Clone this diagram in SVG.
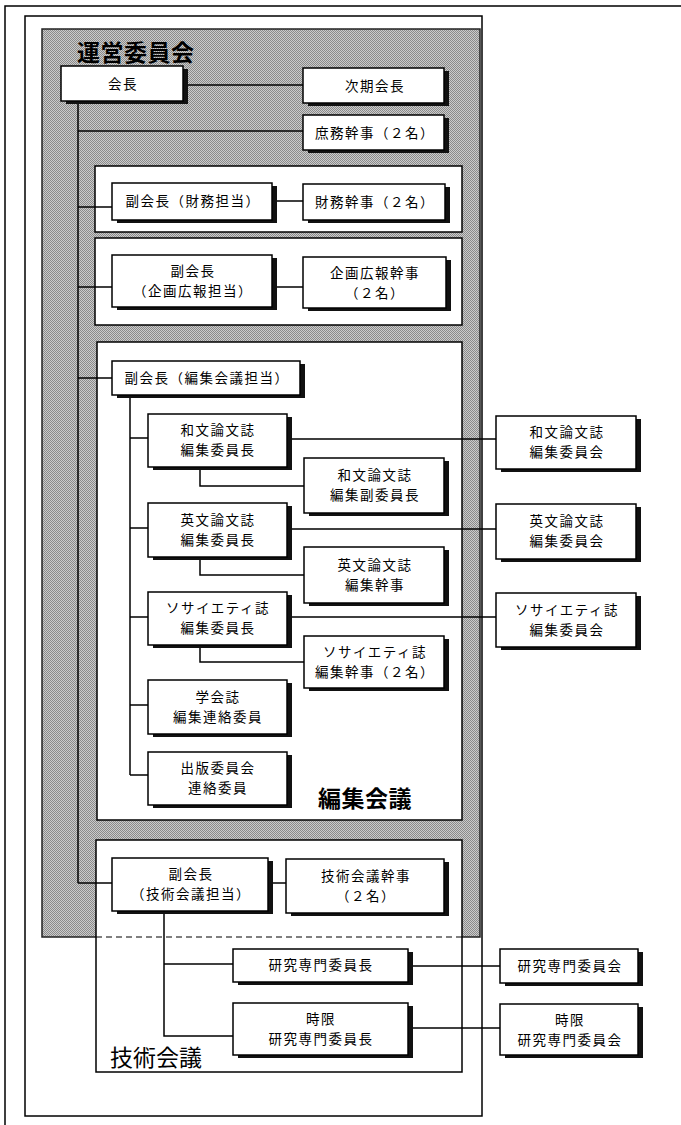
<svg xmlns="http://www.w3.org/2000/svg" width="681" height="1125" viewBox="0 0 681 1125">
<style>
.box{fill:#fff;stroke:#000;stroke-width:1.5}
.sh{fill:#111}
.grp{fill:#fff;stroke:#000;stroke-width:1.5}
.ln{fill:none;stroke:#000;stroke-width:1.5}
text{font-family:"Noto Sans CJK JP","Noto Sans CJK SC",sans-serif;fill:#000}
.t{font-size:13.5px;text-anchor:middle;letter-spacing:1.5px}
.title{font-size:23px;font-weight:bold;letter-spacing:0.5px}
</style>
<defs>
<pattern id="stip" width="2" height="2" patternUnits="userSpaceOnUse">
<rect width="2" height="2" fill="#cbcbcb"/>
<rect x="0" y="0" width="1" height="1" fill="#8a8a8a"/>
<rect x="1" y="1" width="1" height="1" fill="#8a8a8a"/>
</pattern>
</defs>
<rect width="681" height="1125" fill="#fff"/>
<g id="frame">
<path class="ln" d="M5,1125 V6 H681"/>
<rect x="25" y="16" width="457" height="1100" fill="none" stroke="#000" stroke-width="1.5"/>
</g>
<g id="unei">
<rect x="42" y="29" width="438" height="908" fill="url(#stip)" stroke="#222" stroke-width="1.5"/>
<text class="title" x="77" y="61">運営委員会</text>
</g>
<g id="g-zaimu"><rect class="grp" x="95" y="166" width="367" height="66"/></g>
<g id="g-kikaku"><rect class="grp" x="95" y="238" width="367" height="87"/></g>
<g id="g-henshu"><rect class="grp" x="97" y="342" width="365" height="478"/>
<text class="title" x="318" y="807">編集会議</text></g>
<g id="g-gijutsu"><rect class="grp" x="96" y="840" width="366" height="232"/>
<line x1="96" y1="937" x2="462" y2="937" stroke="#000" stroke-width="1.2" stroke-dasharray="6,4"/>
<text x="110" y="1066" style="font-size:23px">技術会議</text></g>
<g id="connectors">
<path class="ln" d="M78,101 V883"/>
<path class="ln" d="M183,85 H303"/>
<path class="ln" d="M78,131 H303"/>
<path class="ln" d="M78,207 H112"/>
<path class="ln" d="M272,201 H303"/>
<path class="ln" d="M78,287 H112"/>
<path class="ln" d="M272,287 H303"/>
<path class="ln" d="M78,378 H112"/>
<path class="ln" d="M130,395 V775"/>
<path class="ln" d="M130,438 H148 M130,528 H148 M130,617 H148 M130,705 H148 M130,775 H148"/>
<path class="ln" d="M287,439 H496 M287,529 H496 M287,617 H496"/>
<path class="ln" d="M200,467 V486 H304"/>
<path class="ln" d="M200,557 V575 H304"/>
<path class="ln" d="M200,645 V662 H304"/>
<path class="ln" d="M78,883 H112"/>
<path class="ln" d="M268,883 H286"/>
<path class="ln" d="M164,911 V1036 H233"/>
<path class="ln" d="M164,964 H233"/>
<path class="ln" d="M408,966 H500"/>
<path class="ln" d="M408,1028 H500"/>
</g>
<g id="n-kaicho"><rect class="sh" x="66" y="69" width="122" height="35"/><rect class="box" x="61" y="66" width="122" height="35"/><text class="t" x="123" y="89">会長</text></g>
<g id="n-jiki"><rect class="sh" x="308" y="71" width="141" height="35"/><rect class="box" x="303" y="68" width="141" height="35"/><text class="t" x="375" y="91">次期会長</text></g>
<g id="n-shomu"><rect class="sh" x="308" y="118" width="141" height="35"/><rect class="box" x="303" y="115" width="141" height="35"/><text class="t" x="375" y="138">庶務幹事（２名）</text></g>
<g id="n-fuku-zaimu"><rect class="sh" x="117" y="186" width="160" height="37"/><rect class="box" x="112" y="183" width="160" height="37"/><text class="t" x="193" y="206">副会長（財務担当）</text></g>
<g id="n-zaimu"><rect class="sh" x="308" y="187" width="142" height="36"/><rect class="box" x="303" y="184" width="142" height="36"/><text class="t" x="375" y="207">財務幹事（２名）</text></g>
<g id="n-fuku-kikaku"><rect class="sh" x="117" y="258" width="160" height="52"/><rect class="box" x="112" y="255" width="160" height="52"/><text class="t" x="193" y="276">副会長</text><text class="t" x="193" y="296">（企画広報担当）</text></g>
<g id="n-kikaku"><rect class="sh" x="308" y="260" width="143" height="51"/><rect class="box" x="303" y="257" width="143" height="51"/><text class="t" x="375" y="278">企画広報幹事</text><text class="t" x="375" y="298">（２名）</text></g>
<g id="n-fuku-henshu"><rect class="sh" x="117" y="364" width="188" height="34"/><rect class="box" x="112" y="361" width="188" height="34"/><text class="t" x="207" y="383">副会長（編集会議担当）</text></g>
<g id="n-wabun-cho"><rect class="sh" x="153" y="417" width="139" height="53"/><rect class="box" x="148" y="414" width="139" height="53"/><text class="t" x="218" y="435">和文論文誌</text><text class="t" x="218" y="455">編集委員長</text></g>
<g id="n-wabun-fuku"><rect class="sh" x="309" y="461" width="140" height="55"/><rect class="box" x="304" y="458" width="140" height="55"/><text class="t" x="375" y="480">和文論文誌</text><text class="t" x="375" y="500">編集副委員長</text></g>
<g id="n-eibun-cho"><rect class="sh" x="153" y="506" width="139" height="54"/><rect class="box" x="148" y="503" width="139" height="54"/><text class="t" x="218" y="525">英文論文誌</text><text class="t" x="218" y="545">編集委員長</text></g>
<g id="n-eibun-kanji"><rect class="sh" x="309" y="550" width="140" height="56"/><rect class="box" x="304" y="547" width="140" height="56"/><text class="t" x="375" y="570">英文論文誌</text><text class="t" x="375" y="590">編集幹事</text></g>
<g id="n-soc-cho"><rect class="sh" x="153" y="595" width="139" height="53"/><rect class="box" x="148" y="592" width="139" height="53"/><text class="t" x="218" y="613">ソサイエティ誌</text><text class="t" x="218" y="633">編集委員長</text></g>
<g id="n-soc-kanji"><rect class="sh" x="309" y="639" width="140" height="52"/><rect class="box" x="304" y="636" width="140" height="52"/><text class="t" x="375" y="657">ソサイエティ誌</text><text class="t" x="375" y="677">編集幹事（２名）</text></g>
<g id="n-gakkai"><rect class="sh" x="153" y="683" width="139" height="54"/><rect class="box" x="148" y="680" width="139" height="54"/><text class="t" x="218" y="702">学会誌</text><text class="t" x="218" y="722">編集連絡委員</text></g>
<g id="n-shuppan"><rect class="sh" x="153" y="755" width="139" height="53"/><rect class="box" x="148" y="752" width="139" height="53"/><text class="t" x="218" y="773">出版委員会</text><text class="t" x="218" y="793">連絡委員</text></g>
<g id="n-wabun-iin"><rect class="sh" x="501" y="419" width="140" height="53"/><rect class="box" x="496" y="416" width="140" height="53"/><text class="t" x="567" y="437">和文論文誌</text><text class="t" x="567" y="457">編集委員会</text></g>
<g id="n-eibun-iin"><rect class="sh" x="501" y="507" width="140" height="55"/><rect class="box" x="496" y="504" width="140" height="55"/><text class="t" x="567" y="526">英文論文誌</text><text class="t" x="567" y="546">編集委員会</text></g>
<g id="n-soc-iin"><rect class="sh" x="501" y="596" width="140" height="54"/><rect class="box" x="496" y="593" width="140" height="54"/><text class="t" x="567" y="615">ソサイエティ誌</text><text class="t" x="567" y="635">編集委員会</text></g>
<g id="n-fuku-gijutsu"><rect class="sh" x="117" y="861" width="156" height="53"/><rect class="box" x="112" y="858" width="156" height="53"/><text class="t" x="191" y="879">副会長</text><text class="t" x="191" y="899">（技術会議担当）</text></g>
<g id="n-gijutsu-kanji"><rect class="sh" x="291" y="862" width="158" height="54"/><rect class="box" x="286" y="859" width="158" height="54"/><text class="t" x="366" y="881">技術会議幹事</text><text class="t" x="366" y="901">（２名）</text></g>
<g id="n-kenkyu-cho"><rect class="sh" x="238" y="952" width="175" height="33"/><rect class="box" x="233" y="949" width="175" height="33"/><text class="t" x="321" y="970">研究専門委員長</text></g>
<g id="n-jigen-cho"><rect class="sh" x="238" y="1006" width="175" height="52"/><rect class="box" x="233" y="1003" width="175" height="52"/><text class="t" x="321" y="1024">時限</text><text class="t" x="321" y="1044">研究専門委員長</text></g>
<g id="n-kenkyu-iin"><rect class="sh" x="505" y="952" width="138" height="34"/><rect class="box" x="500" y="949" width="138" height="34"/><text class="t" x="570" y="971">研究専門委員会</text></g>
<g id="n-jigen-iin"><rect class="sh" x="505" y="1007" width="138" height="51"/><rect class="box" x="500" y="1004" width="138" height="51"/><text class="t" x="570" y="1025">時限</text><text class="t" x="570" y="1045">研究専門委員会</text></g>
</svg>
